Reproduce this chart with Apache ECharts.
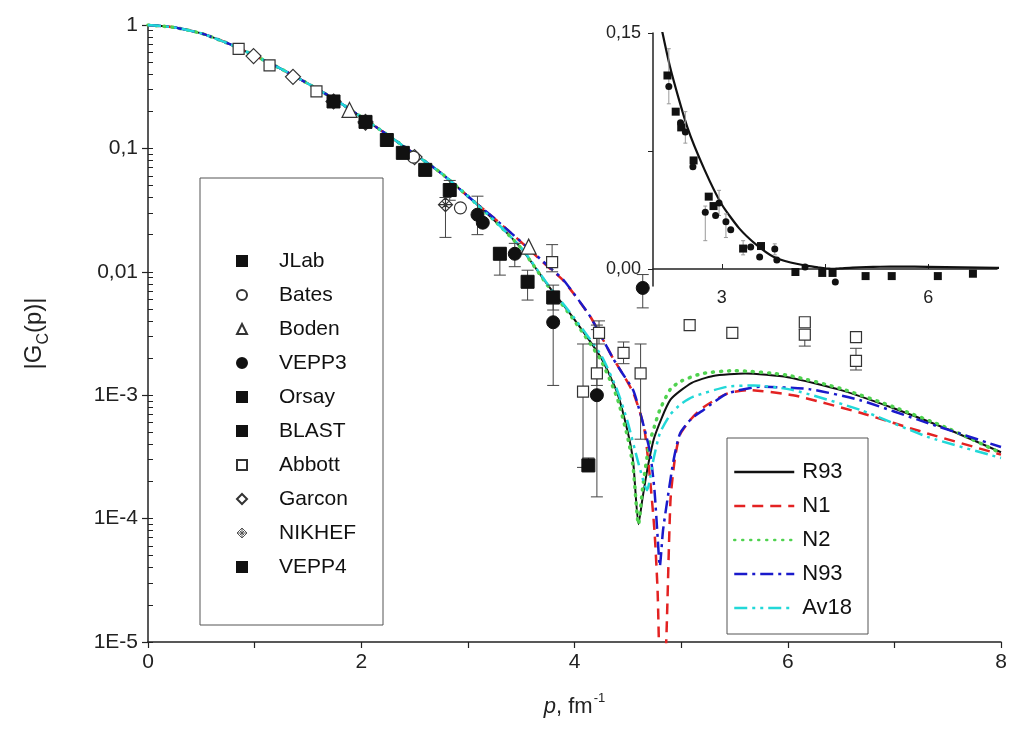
<!DOCTYPE html>
<html><head><meta charset="utf-8">
<script src="https://cdn.jsdelivr.net/npm/echarts@6/dist/echarts.min.js"></script>
<style>html,body{margin:0;padding:0;background:#fff}#c{width:1010px;height:742px}</style>
</head><body><div id="c"></div>
<script>
const FONT = 'Liberation Sans, Arial, sans-serif';

// ---- theory curves [p, |Gc(p)|] ----
const curveCommon = [[0,1],[0.25,0.955],[0.5,0.855],[0.75,0.71],[1,0.565],[1.25,0.44],[1.5,0.335],[1.75,0.25],[2,0.18],[2.25,0.128],[2.5,0.09],[2.75,0.063],[3,0.041]];
const r93Tail = [[3.25,0.026],[3.5,0.0155],[3.75,0.0078],[4.0,0.0041],[4.25,0.002],[4.4,0.00105],[4.5,0.0005],[4.55,0.00029],[4.6,0.00009],[4.64,0.00015],[4.69,0.00027],[4.75,0.00046],[4.9,0.00092],[5.1,0.00126],[5.3,0.00143],[5.6,0.0015],[6.0,0.0014],[6.5,0.0011],[7.0,0.00078],[7.5,0.00053],[8.0,0.000345]];
const n1Tail = [[3.25,0.027],[3.5,0.0174],[3.75,0.011],[3.9,0.0084],[4.15,0.0043],[4.36,0.002],[4.45,0.0015],[4.55,0.00105],[4.62,0.0007],[4.66,0.0005],[4.7,0.00025],[4.75,0.00008],[4.78,0.000025],[4.815,0.000002],[4.86,0.00001],[4.9,0.00014],[4.94,0.0003],[4.99,0.00048],[5.1,0.00065],[5.21,0.0008],[5.43,0.00103],[5.62,0.0011],[6.05,0.001],[6.68,0.00072],[7.31,0.00049],[8.0,0.00033]];
const n2Tail = [[3.25,0.026],[3.5,0.0155],[3.75,0.0077],[4.0,0.004],[4.25,0.0019],[4.4,0.00095],[4.5,0.00045],[4.55,0.00026],[4.6,0.00009],[4.64,0.00018],[4.7,0.0004],[4.75,0.00056],[4.8,0.00076],[4.9,0.00112],[5.0,0.0013],[5.2,0.0015],[5.5,0.00158],[6.0,0.00145],[6.5,0.00113],[7.0,0.0008],[7.5,0.00054],[8.0,0.00034]];
const n93Tail = [[3.25,0.027],[3.5,0.0175],[3.75,0.0112],[3.9,0.0085],[4.15,0.0043],[4.36,0.002],[4.45,0.0015],[4.55,0.0011],[4.62,0.0007],[4.67,0.00048],[4.71,0.00034],[4.75,0.00017],[4.78,0.00007],[4.8,0.000041],[4.83,0.00008],[4.87,0.00014],[4.93,0.0003],[4.99,0.00049],[5.1,0.00065],[5.21,0.00076],[5.43,0.00103],[5.74,0.00117],[6.2,0.00112],[6.68,0.00091],[7.3,0.0006],[8.0,0.00038]];
const av18Tail = [[3.25,0.026],[3.5,0.0157],[3.75,0.0079],[4.0,0.0042],[4.25,0.0021],[4.4,0.0011],[4.5,0.0006],[4.6,0.00028],[4.68,0.00017],[4.74,0.0003],[4.8,0.00049],[4.9,0.0007],[5.0,0.00085],[5.11,0.00097],[5.43,0.00117],[5.68,0.0012],[6.05,0.0011],[6.68,0.00076],[7.31,0.00046],[8.0,0.00031]];

// ---- experimental data [p, |Gc|] and error bars [p, low, high] ----
const jlab = [[3.30,0.014],[3.56,0.0083],[3.80,0.0062]];
const jlabErr = [[3.30,0.0094,0.0156],[3.56,0.0059,0.0103],[3.80,0.0049,0.0078]];
const bates = [[2.49,0.085],[2.93,0.033]];
const boden = [[1.89,0.205],[3.57,0.016]];
const vepp3 = [[3.09,0.029],[3.14,0.025],[3.44,0.014],[3.80,0.0039],[4.21,0.001],[4.64,0.0074]];
const vepp3Err = [[3.09,0.02,0.041],[3.44,0.011,0.017],[3.80,0.0012,0.0055],[4.21,0.00015,0.0034],[4.64,0.0051,0.0095]];
const orsay = [[2.60,0.067],[2.83,0.046]];
const orsayErr = [[2.60,0.06,0.074],[2.83,0.038,0.055]];
const blast = [[1.74,0.24],[2.04,0.164],[2.24,0.117],[2.39,0.092]];
const abbott = [[0.85,0.64],[1.14,0.47],[1.58,0.29],[3.79,0.012],[4.08,0.00107],[4.21,0.0015],[4.23,0.0032],[4.46,0.0022],[4.62,0.0015],[5.08,0.0037],[5.48,0.0032],[6.16,0.0039],[6.16,0.0031],[6.64,0.00295],[6.64,0.0019]];
const abbottErr = [[3.79,0.0100,0.0166],[4.08,0.00026,0.0026],[4.21,0.0012,0.0037],[4.23,0.0026,0.0040],[4.46,0.0018,0.0027],[4.62,0.00044,0.0026],[6.16,0.0025,0.0034],[6.64,0.0016,0.0024]];
const garcon = [[0.99,0.56],[1.36,0.38],[1.74,0.24],[2.04,0.164],[2.50,0.085]];
const nikhef = [[2.04,0.16],[2.79,0.035]];
const nikhefErr = [[2.79,0.019,0.040]];
const vepp4 = [[4.13,0.00027]];
const vepp4Err = [[4.13,0.00024,0.00031]];

// ---- inset data (linear scale) ----
const insetSq = [[2.21,0.123],[2.33,0.10],[2.41,0.090],[2.59,0.069],[2.81,0.046],[2.88,0.040],[3.31,0.013],[3.57,0.0146],[4.07,-0.0019],[4.46,-0.0025],[4.61,-0.0025],[5.09,-0.0045],[5.47,-0.0045],[6.14,-0.0045],[6.65,-0.003]];
const insetCirc = [[2.23,0.116],[2.40,0.093],[2.47,0.087],[2.58,0.065],[2.76,0.036],[2.91,0.034],[2.96,0.042],[3.06,0.030],[3.13,0.025],[3.42,0.014],[3.55,0.0076],[3.77,0.0127],[3.80,0.0057],[4.21,0.0013],[4.65,-0.0083]];
const insetErr = [[2.23,0.105,0.14],[2.47,0.08,0.1],[2.76,0.018,0.04],[2.96,0.034,0.05],[3.06,0.02,0.035],[3.31,0.009,0.018],[3.77,0.009,0.016]];

// ---- tick labels ----
const yTickLabels = ['1E-5','1E-4','1E-3','0,01','0,1','1'];
const insetXLabels = [3, 6];
const insetXTicks = [3, 4.5, 6];
const insetYLabels = [0, 0.15];
const insetYTicks = [0, 0.075, 0.15];

const minorVals = [];
for (let e = -5; e < 0; e++) for (let k = 1; k <= 9; k++) minorVals.push(k * Math.pow(10, e));
minorVals.push(1);

const chart = echarts.init(document.getElementById('c'), null, {renderer: 'canvas'});

function errRender(capW, color) {
  return function (params, api) {
    const x = api.value(0);
    const lo = api.coord([x, api.value(1)]);
    const hi = api.coord([x, api.value(2)]);
    const s = {stroke: color, lineWidth: 1};
    return {type: 'group', children: [
      {type: 'line', shape: {x1: lo[0], y1: lo[1], x2: hi[0], y2: hi[1]}, style: s},
      {type: 'line', shape: {x1: lo[0] - capW / 2, y1: lo[1], x2: lo[0] + capW / 2, y2: lo[1]}, style: s},
      {type: 'line', shape: {x1: hi[0] - capW / 2, y1: hi[1], x2: hi[0] + capW / 2, y2: hi[1]}, style: s}
    ]};
  };
}
function errSeries(name, data, xi, yi, cap, color) {
  return {name: name, type: 'custom', xAxisIndex: xi, yAxisIndex: yi, renderItem: errRender(cap, color),
    encode: {x: 0, y: [1, 2]}, data: data, z: 3, silent: true, clip: true};
}
const filled = {color: '#111', borderColor: '#111', borderWidth: 1, opacity: 1};
const open = {color: '#fff', borderColor: '#333', borderWidth: 1.2, opacity: 1};
function sc(name, data, symbol, size, style) {
  return {name: name, type: 'scatter', xAxisIndex: 0, yAxisIndex: 0, data: data, symbol: symbol,
    symbolSize: size, itemStyle: style, z: 4};
}
function ln(name, data, color, type, width, cap) {
  return {name: name, type: 'line', xAxisIndex: 0, yAxisIndex: 0, data: data, symbol: 'none',
    smooth: 0.2, lineStyle: {color: color, type: type, width: width, cap: cap || 'butt'}, itemStyle: {color: color}, z: 2};
}
const nikhefSym = 'path://M0,-10 L10,0 L0,10 L-10,0 Z M-5,-5 L5,5 M5,-5 L-5,5 M-10,0 L10,0 M0,-10 L0,10';
const axisLineStyle = {color: '#222', width: 1.5};

const option = {
  backgroundColor: '#fff',
  animation: false,
  textStyle: {fontFamily: FONT},
  grid: [
    {left: 148, right: 9, top: 25, bottom: 100},
    {left: 653, right: 13, top: 33, bottom: 456}
  ],
  xAxis: [
    {type: 'value', gridIndex: 0, min: 0, max: 8, interval: 1,
      axisLine: {lineStyle: axisLineStyle}, axisTick: {length: 6, lineStyle: {color: '#222', width: 1.2}},
      splitLine: {show: false},
      axisLabel: {fontSize: 21, color: '#222', margin: 10, fontFamily: FONT,
        formatter: v => (v % 2 === 0 ? String(v) : '')},
      name: '{i|p}{n|, fm}{s|-1}', nameLocation: 'middle', nameGap: 50,
      nameTextStyle: {rich: {
        i: {fontSize: 22, fontStyle: 'italic', fontFamily: FONT, color: '#222', lineHeight: 26, verticalAlign: 'bottom'},
        n: {fontSize: 22, fontFamily: FONT, color: '#222', lineHeight: 26, verticalAlign: 'bottom'},
        s: {fontSize: 13, fontFamily: FONT, color: '#222', lineHeight: 26, verticalAlign: 'top', padding: [0, 0, 12, 1]}
      }}
    },
    {type: 'value', gridIndex: 1, min: 2, max: 7,
      axisLine: {lineStyle: axisLineStyle},
      axisTick: {inside: true, length: 5, customValues: insetXTicks, lineStyle: {color: '#222'}},
      splitLine: {show: false},
      axisLabel: {fontSize: 18, color: '#222', margin: 3, fontFamily: FONT, customValues: insetXLabels}
    }
  ],
  yAxis: [
    {type: 'log', logBase: 10, gridIndex: 0, min: 0.00001, max: 1,
      axisLine: {show: true, lineStyle: axisLineStyle},
      axisTick: {show: true, length: 6, lineStyle: {color: '#222', width: 1.2}},
      splitLine: {show: false},
      axisLabel: {fontSize: 21, color: '#222', margin: 10, fontFamily: FONT,
        formatter: v => yTickLabels[Math.round(Math.log10(v)) + 5]},
      name: '{m||G}{sub|C}{m|(p)|}', nameLocation: 'middle', nameGap: 96,
      nameTextStyle: {rich: {
        m: {fontSize: 24, color: '#222', fontFamily: FONT, lineHeight: 36, verticalAlign: 'middle'},
        sub: {fontSize: 16, color: '#222', fontFamily: FONT, lineHeight: 36, verticalAlign: 'bottom'}
      }}
    },
    {type: 'log', logBase: 10, gridIndex: 0, min: 0.00001, max: 1, position: 'left',
      axisLine: {show: false}, splitLine: {show: false}, axisLabel: {show: false},
      axisTick: {show: true, inside: true, length: 5, customValues: minorVals, lineStyle: {color: '#222', width: 1}}
    },
    {type: 'value', gridIndex: 1, min: -0.0108, max: 0.15,
      axisLine: {show: true, lineStyle: axisLineStyle},
      axisTick: {show: true, length: 5, customValues: insetYTicks, lineStyle: {color: '#222'}},
      splitLine: {show: false},
      axisLabel: {fontSize: 18, color: '#222', margin: 12, fontFamily: FONT, customValues: insetYLabels,
        formatter: v => v.toFixed(2).replace('.', ',')}
    }
  ],
  legend: [
    {orient: 'vertical', left: 236, top: 249, padding: 0, itemWidth: 10, itemHeight: 10, itemGap: 10,
      selectedMode: false,
      itemStyle: {opacity: 1},
      textStyle: {fontSize: 21, color: '#111', fontFamily: FONT, lineHeight: 24, padding: [0, 0, 0, 27]},
      data: ['JLab', 'Bates', 'Boden', 'VEPP3', 'Orsay', 'BLAST', 'Abbott', 'Garcon',
        {name: 'NIKHEF', itemStyle: {color: '#fff', borderColor: '#555', borderWidth: 1, opacity: 1}}, 'VEPP4']},
    {orient: 'vertical', left: 733, top: 460, padding: 0, itemWidth: 60, itemHeight: 14, itemGap: 10,
      selectedMode: false,
      itemStyle: {opacity: 0},
      lineStyle: {width: 2.5},
      textStyle: {fontSize: 22, color: '#111', fontFamily: FONT, lineHeight: 24, padding: [0, 0, 0, 3]},
      data: ['R93', 'N1', 'N2', 'N93', 'Av18']}
  ],
  graphic: [
    {type: 'rect', shape: {x: 200, y: 178, width: 183, height: 447}, style: {fill: 'none', stroke: '#555', lineWidth: 1}, z: 1},
    {type: 'rect', shape: {x: 727, y: 438, width: 141, height: 196}, style: {fill: 'none', stroke: '#555', lineWidth: 1}, z: 1}
  ],
  series: [
    ln('R93', curveCommon.concat(r93Tail), '#111', 'solid', 2),
    ln('N1', curveCommon.concat(n1Tail), '#e32222', [11, 7], 2.5),
    ln('N2', curveCommon.concat(n2Tail), '#4fd24f', [1, 7], 3.5, 'round'),
    ln('N93', curveCommon.concat(n93Tail), '#1a1acb', [13, 5, 3, 5], 2.5),
    ln('Av18', curveCommon.concat(av18Tail), '#22d8d8', [13, 5, 3, 5, 3, 5], 2.5),

    errSeries('e1', jlabErr, 0, 0, 12, '#444'),
    errSeries('e2', vepp3Err, 0, 0, 12, '#444'),
    errSeries('e3', orsayErr, 0, 0, 12, '#444'),
    errSeries('e4', abbottErr, 0, 0, 12, '#444'),
    errSeries('e5', nikhefErr, 0, 0, 12, '#444'),
    errSeries('e6', vepp4Err, 0, 0, 12, '#444'),

    sc('Abbott', abbott, 'rect', 11, open),
    sc('Garcon', garcon, 'diamond', 15, open),
    sc('Bates', bates, 'circle', 12, open),
    sc('Boden', boden, 'triangle', 15, open),
    sc('NIKHEF', nikhef, nikhefSym, 14, {color: '#fff', borderColor: '#333', borderWidth: 1.2, opacity: 1}),
    sc('JLab', jlab, 'rect', 13, filled),
    sc('VEPP3', vepp3, 'circle', 13, filled),
    sc('Orsay', orsay, 'rect', 13, filled),
    sc('BLAST', blast, 'rect', 13, filled),
    sc('VEPP4', vepp4, 'rect', 13, filled),

    // inset
    {name: 'insetCurve', type: 'line', xAxisIndex: 1, yAxisIndex: 2, data: curveCommon.concat(r93Tail),
      symbol: 'none', smooth: 0.2, lineStyle: {color: '#111', width: 2.2}, z: 2},
    errSeries('ie', insetErr, 1, 2, 4, '#999'),
    {name: 'insetSq', type: 'scatter', xAxisIndex: 1, yAxisIndex: 2, data: insetSq, symbol: 'rect', symbolSize: 8, itemStyle: {color: '#111', opacity: 1}, z: 4},
    {name: 'insetCirc', type: 'scatter', xAxisIndex: 1, yAxisIndex: 2, data: insetCirc, symbol: 'circle', symbolSize: 7, itemStyle: {color: '#111', opacity: 1}, z: 4}
  ]
};
chart.setOption(option);
</script>
</body></html>
